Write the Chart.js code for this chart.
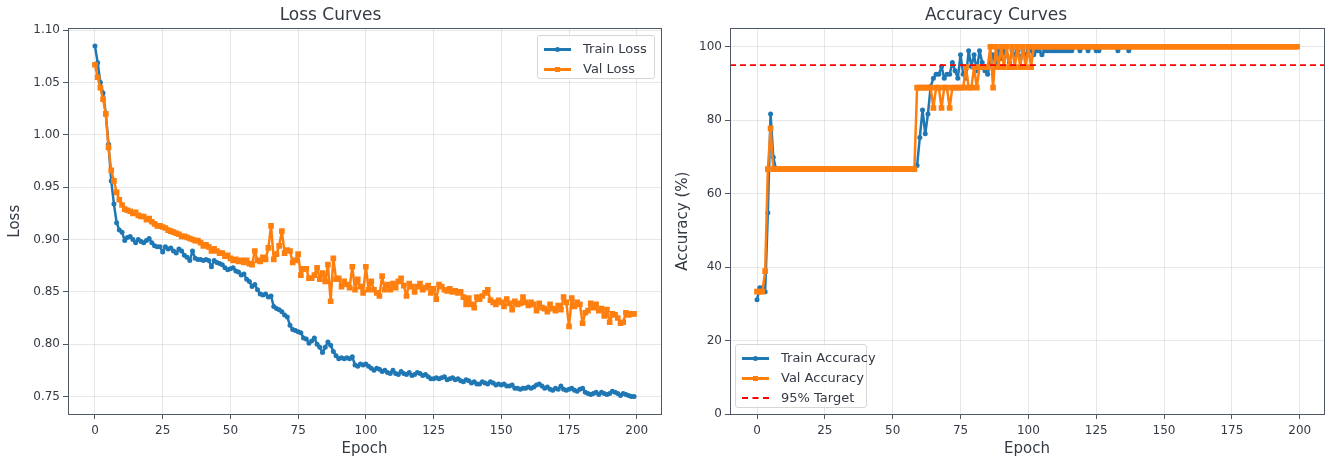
<!DOCTYPE html>
<html>
<head>
<meta charset="utf-8">
<script src="https://cdn.jsdelivr.net/npm/chart.js@4.4.1/dist/chart.umd.min.js"></script>
<style>
  body { margin: 0; background: #fff; font-family: 'DejaVu Sans', sans-serif; }
  #wrap { position: relative; width: 1336px; height: 459px; }
  canvas { position: absolute; top: 0; }
  .legend { position: absolute; background: rgba(255,255,255,0.8); border: 1px solid #d6d6d6; border-radius: 3px;
            font-size: 13px; color: #333a44; box-sizing: border-box; padding: 3px 0 0 6px; }
  .item { height: 20px; line-height: 20px; white-space: nowrap; }
  .sw { display: inline-block; position: relative; width: 27px; height: 20px; vertical-align: top; margin-right: 12px; }
  .sw::before { content: ''; position: absolute; left: 0; right: 0; top: 9px; height: 2.5px; }
  .sw::after { content: ''; position: absolute; left: 11px; top: 8px; width: 5px; height: 5px; }
  .sw.train::before, .sw.train::after { background: #1f77b4; }
  .sw.train::after { border-radius: 50%; }
  .sw.val::before, .sw.val::after { background: #ff7f0e; }
  .sw.target::before { height: 0; border-top: 2px dashed #ff0000; background: none; }
  .sw.target::after { display: none; }
</style>
</head>
<body>
<div id="wrap">
  <canvas id="lossChart" width="668" height="459" style="left:0"></canvas>
  <canvas id="accChart" width="668" height="459" style="left:668px"></canvas>
  <div class="legend" style="left:537px; top:35px; width:118px; height:44px">
    <div class="item"><span class="sw train"></span>Train Loss</div>
    <div class="item"><span class="sw val"></span>Val Loss</div>
  </div>
  <div class="legend" style="left:735px; top:344px; width:132px; height:64px">
    <div class="item"><span class="sw train"></span>Train Accuracy</div>
    <div class="item"><span class="sw val"></span>Val Accuracy</div>
    <div class="item"><span class="sw target"></span>95% Target</div>
  </div>
</div>
<script>
// epoch index 0..199 (like range(200))
const epochs = Array.from({length: 200}, (_, i) => i);

const trainLoss = [
  1.085, 1.069, 1.050, 1.040, 1.020, 0.991, 0.956, 0.934, 0.916, 0.909,
  0.907, 0.899, 0.902, 0.903, 0.900, 0.897, 0.900, 0.898, 0.897, 0.899,
  0.901, 0.897, 0.894, 0.893, 0.893, 0.888, 0.893, 0.891, 0.892, 0.889,
  0.887, 0.891, 0.889, 0.885, 0.883, 0.880, 0.889, 0.882, 0.881, 0.881,
  0.880, 0.881, 0.880, 0.874, 0.880, 0.878, 0.877, 0.876, 0.873, 0.871,
  0.872, 0.873, 0.870, 0.869, 0.866, 0.867, 0.862, 0.860, 0.855, 0.857,
  0.852, 0.848, 0.847, 0.848, 0.845, 0.846, 0.836, 0.834, 0.833, 0.831,
  0.828, 0.826, 0.818, 0.814, 0.813, 0.812, 0.811, 0.806, 0.805, 0.801,
  0.803, 0.806, 0.800, 0.797, 0.792, 0.797, 0.802, 0.799, 0.793, 0.789,
  0.786, 0.787, 0.786, 0.787, 0.786, 0.788, 0.780, 0.779, 0.781, 0.780,
  0.781, 0.779, 0.777, 0.775, 0.777, 0.776, 0.774, 0.775, 0.773, 0.772,
  0.775, 0.772, 0.771, 0.774, 0.772, 0.771, 0.773, 0.770, 0.771, 0.773,
  0.772, 0.770, 0.771, 0.769, 0.767, 0.767, 0.768, 0.767, 0.768, 0.769,
  0.766, 0.767, 0.768, 0.766, 0.767, 0.765, 0.764, 0.766, 0.765, 0.763,
  0.764, 0.762, 0.762, 0.764, 0.763, 0.762, 0.764, 0.763, 0.761, 0.762,
  0.761, 0.762, 0.760, 0.760, 0.761, 0.758, 0.758, 0.757, 0.758, 0.758,
  0.759, 0.758, 0.759, 0.761, 0.762, 0.760, 0.758, 0.759, 0.757, 0.756,
  0.758, 0.757, 0.760, 0.757, 0.756, 0.757, 0.758, 0.756, 0.755, 0.757,
  0.758, 0.754, 0.753, 0.752, 0.753, 0.754, 0.752, 0.754, 0.753, 0.752,
  0.753, 0.755, 0.754, 0.753, 0.751, 0.753, 0.752, 0.751, 0.750, 0.750
];

const valLoss = [
  1.067, 1.055, 1.045, 1.034, 1.020, 0.988, 0.966, 0.956, 0.945, 0.938,
  0.933, 0.929, 0.928, 0.927, 0.925, 0.926, 0.923, 0.922, 0.922, 0.919,
  0.920, 0.917, 0.915, 0.913, 0.913, 0.912, 0.911, 0.909, 0.908, 0.907,
  0.906, 0.905, 0.903, 0.903, 0.902, 0.901, 0.900, 0.899, 0.899, 0.897,
  0.894, 0.895, 0.893, 0.889, 0.891, 0.889, 0.887, 0.887, 0.884, 0.885,
  0.882, 0.880, 0.881, 0.879, 0.880, 0.878, 0.880, 0.877, 0.876, 0.889,
  0.880, 0.879, 0.883, 0.881, 0.892, 0.913, 0.881, 0.886, 0.894, 0.908,
  0.887, 0.890, 0.889, 0.878, 0.880, 0.886, 0.866, 0.872, 0.872, 0.863,
  0.863, 0.866, 0.873, 0.862, 0.868, 0.860, 0.876, 0.841, 0.882, 0.862,
  0.863, 0.855, 0.860, 0.857, 0.854, 0.874, 0.852, 0.862, 0.855, 0.849,
  0.874, 0.852, 0.860, 0.852, 0.849, 0.846, 0.865, 0.852, 0.857, 0.852,
  0.858, 0.854, 0.860, 0.863, 0.856, 0.846, 0.858, 0.855, 0.850, 0.855,
  0.858, 0.852, 0.854, 0.856, 0.849, 0.853, 0.843, 0.857, 0.855, 0.852,
  0.851, 0.853, 0.850, 0.851, 0.849, 0.850, 0.845, 0.838, 0.844, 0.838,
  0.835, 0.845, 0.843, 0.846, 0.849, 0.852, 0.842, 0.840, 0.838, 0.842,
  0.840, 0.836, 0.843, 0.839, 0.833, 0.841, 0.838, 0.839, 0.845, 0.840,
  0.837, 0.840, 0.838, 0.832, 0.839, 0.835, 0.834, 0.831, 0.838, 0.834,
  0.832, 0.837, 0.833, 0.845, 0.840, 0.817, 0.844, 0.836, 0.840, 0.838,
  0.820, 0.830, 0.832, 0.839, 0.835, 0.838, 0.832, 0.834, 0.827, 0.833,
  0.821, 0.829, 0.828, 0.825, 0.820, 0.821, 0.830, 0.828, 0.829, 0.829
];

const trainAcc = [
  31.1, 34.4, 34.4, 33.3, 54.8, 81.7, 69.9, 66.7, 66.7, 66.7,
  66.7, 66.7, 66.7, 66.7, 66.7, 66.7, 66.7, 66.7, 66.7, 66.7,
  66.7, 66.7, 66.7, 66.7, 66.7, 66.7, 66.7, 66.7, 66.7, 66.7,
  66.7, 66.7, 66.7, 66.7, 66.7, 66.7, 66.7, 66.7, 66.7, 66.7,
  66.7, 66.7, 66.7, 66.7, 66.7, 66.7, 66.7, 66.7, 66.7, 66.7,
  66.7, 66.7, 66.7, 66.7, 66.7, 66.7, 66.7, 66.7, 66.7, 67.7,
  75.3, 82.8, 76.3, 81.7, 89.2, 91.4, 92.5, 92.5, 94.6, 91.4,
  92.5, 92.5, 95.7, 93.5, 91.4, 97.8, 92.5, 91.4, 98.9, 94.6,
  97.8, 93.5, 98.9, 95.7, 93.5, 92.5, 95.7, 97.8, 94.6, 98.9,
  96.8, 98.9, 97.8, 95.7, 98.9, 97.8, 98.9, 96.8, 98.9, 97.8,
  98.9, 98.9, 97.8, 98.9, 98.9, 97.8, 98.9, 98.9, 98.9, 98.9,
  98.9, 98.9, 98.9, 98.9, 98.9, 98.9, 98.9, 100, 100, 98.9,
  100, 100, 98.9, 100, 100, 98.9, 98.9, 100, 100, 100,
  100, 100, 100, 98.9, 100, 100, 100, 98.9, 100, 100,
  100, 100, 100, 100, 100, 100, 100, 100, 100, 100,
  100, 100, 100, 100, 100, 100, 100, 100, 100, 100,
  100, 100, 100, 100, 100, 100, 100, 100, 100, 100,
  100, 100, 100, 100, 100, 100, 100, 100, 100, 100,
  100, 100, 100, 100, 100, 100, 100, 100, 100, 100,
  100, 100, 100, 100, 100, 100, 100, 100, 100, 100
];

const valAcc = [
  33.33, 33.33, 33.33, 38.89, 66.67, 77.78, 66.67, 66.67, 66.67, 66.67,
  66.67, 66.67, 66.67, 66.67, 66.67, 66.67, 66.67, 66.67, 66.67, 66.67,
  66.67, 66.67, 66.67, 66.67, 66.67, 66.67, 66.67, 66.67, 66.67, 66.67,
  66.67, 66.67, 66.67, 66.67, 66.67, 66.67, 66.67, 66.67, 66.67, 66.67,
  66.67, 66.67, 66.67, 66.67, 66.67, 66.67, 66.67, 66.67, 66.67, 66.67,
  66.67, 66.67, 66.67, 66.67, 66.67, 66.67, 66.67, 66.67, 66.67, 88.89,
  88.89, 88.89, 88.89, 88.89, 88.89, 83.33, 88.89, 88.89, 83.33, 88.89,
  88.89, 83.33, 88.89, 88.89, 88.89, 88.89, 88.89, 94.44, 88.89, 88.89,
  94.44, 88.89, 94.44, 94.44, 94.44, 94.44, 100, 88.89, 100, 94.44,
  100, 94.44, 100, 94.44, 100, 94.44, 100, 94.44, 100, 94.44,
  100, 94.44, 100, 100, 100, 100, 100, 100, 100, 100,
  100, 100, 100, 100, 100, 100, 100, 100, 100, 100,
  100, 100, 100, 100, 100, 100, 100, 100, 100, 100,
  100, 100, 100, 100, 100, 100, 100, 100, 100, 100,
  100, 100, 100, 100, 100, 100, 100, 100, 100, 100,
  100, 100, 100, 100, 100, 100, 100, 100, 100, 100,
  100, 100, 100, 100, 100, 100, 100, 100, 100, 100,
  100, 100, 100, 100, 100, 100, 100, 100, 100, 100,
  100, 100, 100, 100, 100, 100, 100, 100, 100, 100,
  100, 100, 100, 100, 100, 100, 100, 100, 100, 100
];

const targetAcc = 95;
const epochTicks = [0, 25, 50, 75, 100, 125, 150, 175, 200];
const lossTicks = [0.75, 0.80, 0.85, 0.90, 0.95, 1.00, 1.05, 1.10];
const accTicks = [0, 20, 40, 60, 80, 100];

const TEXT = '#333a44';
const SPINE = '#4f5866';
const GRID = 'rgba(176,176,176,0.3)';
const X_MIN = -9.95, X_MAX = 208.95;

Chart.defaults.font.family = "'DejaVu Sans', sans-serif";
Chart.defaults.color = TEXT;

const toXY = vals => vals.map((v, i) => ({x: epochs[i], y: v}));

// draw the four spines around the plot area
const framePlugin = {
  id: 'frame',
  afterDraw(chart) {
    const a = chart.chartArea, ctx = chart.ctx;
    ctx.save();
    ctx.strokeStyle = SPINE;
    ctx.lineWidth = 1;
    ctx.strokeRect(Math.round(a.left) + 0.5, Math.round(a.top) + 0.5,
                   Math.round(a.right - a.left), Math.round(a.bottom - a.top));
    ctx.restore();
  }
};

function lineSet(label, vals, color, style, radius, order) {
  return {
    label, data: toXY(vals), borderColor: color, backgroundColor: color,
    pointBackgroundColor: color, pointBorderColor: color, pointBorderWidth: 0,
    pointStyle: style, pointRadius: radius, borderWidth: 2.5, tension: 0,
    borderJoinStyle: 'round', borderCapStyle: 'round', order
  };
}

function makeChart(id, title, yTitle, datasets, yMin, yMax, yTicks, fmt, yWidth, padRight) {
  return new Chart(document.getElementById(id), {
    type: 'line',
    data: {datasets},
    plugins: [framePlugin],
    options: {
      responsive: false,
      animation: false,
      layout: {padding: {left: 0, right: padRight, top: 0, bottom: 0}},
      plugins: {
        legend: {display: false},
        tooltip: {enabled: false},
        title: {display: true, text: title, color: TEXT,
                font: {size: 17, weight: 'normal'}, padding: {top: 5, bottom: 3}}
      },
      scales: {
        x: {
          type: 'linear', min: X_MIN, max: X_MAX,
          afterBuildTicks: s => { s.ticks = epochTicks.map(v => ({value: v})); },
          afterFit: s => { s.height = 45; },
          ticks: {font: {size: 12}, color: TEXT, padding: 5, maxRotation: 0},
          grid: {color: GRID, tickColor: SPINE, tickLength: 5, lineWidth: 1},
          border: {display: false},
          title: {display: true, text: 'Epoch', color: TEXT, font: {size: 15}, padding: {top: 0, bottom: 1}}
        },
        y: {
          type: 'linear', min: yMin, max: yMax,
          afterBuildTicks: s => { s.ticks = yTicks.map(v => ({value: v})); },
          afterFit: s => { s.width = yWidth; },
          ticks: {font: {size: 12}, color: TEXT, padding: 3, callback: fmt},
          grid: {color: GRID, tickColor: SPINE, tickLength: 5, lineWidth: 1},
          border: {display: false},
          title: {display: true, text: yTitle, color: TEXT, font: {size: 15}, padding: {top: 6, bottom: 0}}
        }
      }
    }
  });
}

makeChart('lossChart', 'Loss Curves', 'Loss', [
  lineSet('Train Loss', trainLoss, '#1f77b4', 'circle', 2.5, 1),
  lineSet('Val Loss', valLoss, '#ff7f0e', 'rect', 4, 0)
], 0.7333, 1.1017, lossTicks, v => v.toFixed(2), 68, 7);

makeChart('accChart', 'Accuracy Curves', 'Accuracy (%)', [
  lineSet('Train Accuracy', trainAcc, '#1f77b4', 'circle', 2.5, 1),
  lineSet('Val Accuracy', valAcc, '#ff7f0e', 'rect', 4, 0),
  {label: '95% Target', data: [{x: X_MIN, y: targetAcc}, {x: X_MAX, y: targetAcc}],
   borderColor: '#ff0000', borderWidth: 1.8, borderDash: [6, 4], pointRadius: 0, order: -1}
], 0, 105, accTicks, v => String(v), 62, 12);
</script>
</body>
</html>
